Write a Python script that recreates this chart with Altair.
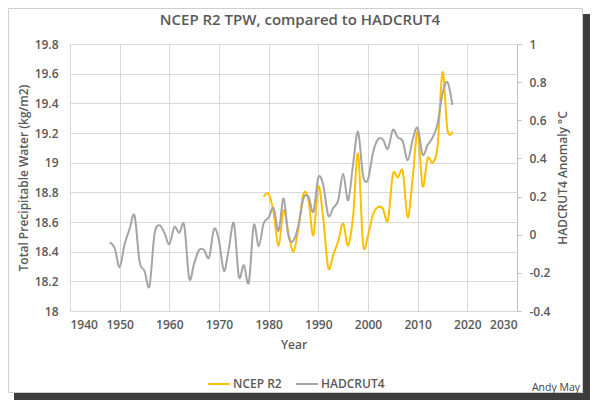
import altair as alt
import pandas as pd

# ---- data ----
had_years = list(range(1948, 2018))
had_vals = [-0.04, -0.07, -0.17, -0.05, 0.03, 0.10, -0.14, -0.19, -0.27, 0.00,
            0.05, 0.01, -0.05, 0.04, 0.01, 0.05, -0.23, -0.15, -0.08, -0.08,
            -0.12, 0.03, -0.03, -0.19, -0.07, 0.06, -0.22, -0.16, -0.25, 0.05,
            -0.06, 0.06, 0.09, 0.14, 0.02, 0.19, -0.01, -0.03, 0.05, 0.19,
            0.20, 0.12, 0.30, 0.26, 0.10, 0.14, 0.18, 0.32, 0.18, 0.37,
            0.54, 0.31, 0.29, 0.43, 0.50, 0.50, 0.45, 0.55, 0.51, 0.49,
            0.39, 0.50, 0.56, 0.42, 0.47, 0.51, 0.58, 0.74, 0.80, 0.68]
tpw_years = list(range(1979, 2018))
tpw_vals = [18.77, 18.79, 18.66, 18.44, 18.68, 18.52, 18.40, 18.56, 18.79, 18.75,
            18.51, 18.84, 18.62, 18.29, 18.38, 18.47, 18.59, 18.44, 18.64, 19.06,
            18.45, 18.51, 18.65, 18.70, 18.69, 18.61, 18.92, 18.90, 18.94, 18.63,
            18.90, 19.21, 18.84, 19.03, 19.00, 19.11, 19.61, 19.22, 19.21]
x_ticks = [1940, 1950, 1960, 1970, 1980, 1990, 2000, 2010, 2020, 2030]
left_ticks = [18.0, 18.2, 18.4, 18.6, 18.8, 19.0, 19.2, 19.4, 19.6, 19.8]
right_ticks = [-0.4, -0.2, 0, 0.2, 0.4, 0.6, 0.8, 1.0]
series_names = ["NCEP R2", "HADCRUT4"]
series_colors = ["#FFC000", "#A5A5A5"]
title_text = "NCEP R2 TPW, compared to HADCRUT4"
credit_text = "Andy May"

FONT = "Open Sans"
TXT = "#595959"
GRID = "#d9d9d9"
WEIGHT = 600

tpw_df = pd.DataFrame({"Year": tpw_years, "value": tpw_vals, "series": series_names[0]})
had_df = pd.DataFrame({"Year": had_years, "value": had_vals, "series": series_names[1]})
one = pd.DataFrame({"k": [0]})

x_enc = alt.X(
    "Year:Q",
    scale=alt.Scale(domain=[1940, 2030], nice=False, zero=False),
    axis=alt.Axis(values=x_ticks, format="d", grid=True, gridColor=GRID,
                  domain=False, ticks=False, labelPadding=8,
                  title="Year", titlePadding=9),
)

color_enc = alt.Color(
    "series:N",
    scale=alt.Scale(domain=series_names, range=series_colors),
    legend=alt.Legend(title=None, orient="none", legendX=137, legendY=328,
                      direction="horizontal", symbolType="stroke", symbolSize=484,
                      symbolStrokeWidth=2, labelFontSize=12, labelColor=TXT,
                      labelFont=FONT, labelFontWeight=WEIGHT,
                      columnPadding=10, labelOffset=2),
)

tpw_line = alt.Chart(tpw_df).mark_line(interpolate="cardinal", strokeWidth=2).encode(
    x=x_enc,
    y=alt.Y("value:Q",
            scale=alt.Scale(domain=[18, 19.8], nice=False, zero=False),
            axis=alt.Axis(orient="left", values=left_ticks, format="~g", grid=True,
                          gridColor=GRID, domain=False, ticks=False, labelPadding=12,
                          title="Total Precipitable Water (kg/m2)",
                          titleAngle=270, titleX=-47, titleY=133.5,
                          titleAlign="center", titleBaseline="middle")),
    color=color_enc,
)

had_line = alt.Chart(had_df).mark_line(interpolate="cardinal", strokeWidth=2).encode(
    x=x_enc,
    y=alt.Y("value:Q",
            scale=alt.Scale(domain=[-0.4, 1.0], nice=False, zero=False),
            axis=alt.Axis(orient="right", values=right_ticks,
                          labelExpr="replace(format(datum.value, '~g'), '\u2212', '-')",
                          grid=False, domain=True, domainColor="#bfbfbf",
                          ticks=True, tickColor="#bfbfbf", tickSize=4, labelPadding=8,
                          title="HADCRUT4 Anomaly °C", titleAngle=270,
                          titleX=45, titleY=133.5,
                          titleAlign="center", titleBaseline="middle")),
    color=color_enc,
)

frame = alt.Chart(one).mark_rect(fillOpacity=0, stroke="#cfcfcf", strokeWidth=1).encode(
    x=alt.value(-61.5), x2=alt.value(512.5), y=alt.value(-35.5), y2=alt.value(348.5)
)
shadow_r = alt.Chart(one).mark_rect(color="#3d3d3d").encode(
    x=alt.value(513), x2=alt.value(520), y=alt.value(-30), y2=alt.value(356)
)
shadow_b = alt.Chart(one).mark_rect(color="#3d3d3d").encode(
    x=alt.value(-56), x2=alt.value(520), y=alt.value(349), y2=alt.value(356)
)
title = alt.Chart(one).mark_text(text=title_text, font=FONT, fontSize=15, fontWeight=WEIGHT,
                                 color=TXT, align="center", baseline="middle").encode(
    x=alt.value(230), y=alt.value(-24)
)
credit = alt.Chart(one).mark_text(text=credit_text, font=FONT, fontSize=10.5, fontWeight="normal",
                                  color="#404040", align="right", baseline="middle").encode(
    x=alt.value(510), y=alt.value(344)
)

chart = alt.layer(frame, shadow_r, shadow_b, tpw_line, had_line, title, credit).resolve_scale(
    y="independent"
).properties(
    width=447,
    height=267,
    padding={"left": 62, "top": 36, "right": 73, "bottom": 89},
    autosize=alt.AutoSizeParams(type="none"),
    background="white",
).configure_axis(
    labelFont=FONT, labelFontSize=12, labelColor=TXT, labelFontWeight=WEIGHT,
    titleFont=FONT, titleFontSize=12, titleColor=TXT, titleFontWeight=WEIGHT,
).configure_view(stroke=None)

chart.save("out.html", embed_options={"renderer": "svg", "actions": False})
